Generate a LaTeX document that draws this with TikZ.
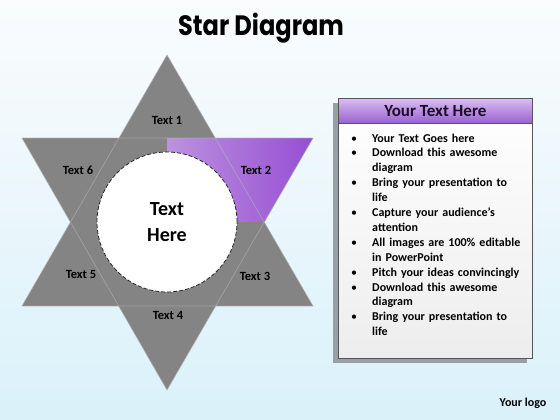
\documentclass[tikz,border=0pt]{standalone}
\usepackage{fontspec}
\setmainfont{Carlito}
\newfontfamily\titlefont{Poppins}
\usetikzlibrary{calc,
	positioning}

\makeatletter
\def\@listi{\leftmargin\leftmargini \labelsep 15pt \topsep\z@ \partopsep\z@ \parsep\z@ \itemsep\z@}
\let\@listI\@listi
\makeatother
\setlength{\leftmargini}{32pt}

\definecolor{bgtop}{RGB}{250,252,253}
\definecolor{bgbottom}{RGB}{218,241,250}
\definecolor{stargray}{RGB}{132,132,132}
\definecolor{starline}{RGB}{175,175,175}
\definecolor{lilac}{RGB}{188,146,222}
\definecolor{violet}{RGB}{150,78,212}
\definecolor{headtop}{RGB}{218,190,242}
\definecolor{headbottom}{RGB}{152,96,206}
\definecolor{headtext}{RGB}{28,12,42}
\definecolor{panelline}{RGB}{85,85,85}
\definecolor{panelshadow}{RGB}{150,160,166}

\begin{document}
\begin{tikzpicture}[x=1pt,y=-1pt,
	spike/.style={fill=stargray},
	rim/.style={draw=starline,line width=0.7pt,line join=round,opacity=0.7},
	spikelabel/.style={font=\bfseries\fontsize{12.5}{14}\selectfont,text=black},
	bodytext/.style={font=\bfseries\fontsize{12}{14.9}\selectfont,text=black}]
	% background
	\fill[top color=bgtop,bottom color=bgbottom] (0,0) rectangle (560,420);
	\useasboundingbox (0,0) rectangle (560,420);

	\node (title) [anchor=base,text=black,font=\titlefont\bfseries\fontsize{28}{30}\selectfont] at (261,36) {\scalebox{0.86}[1]{Star Diagram}};

	% star points
	\coordinate (c) at (167,222);
	\coordinate (p1) at (167,55);
	\coordinate (p2) at (313,138);
	\coordinate (p3) at (313,306);
	\coordinate (p4) at (167,390);
	\coordinate (p5) at (22,306);
	\coordinate (p6) at (22,138);
	\coordinate (i2) at (215,138);
	\coordinate (i3) at (264,222);

	\fill[spike] (p1) -- (p3) -- (p5) -- cycle;
	\fill[spike] (p2) -- (p4) -- (p6) -- cycle;
	\shade[left color=lilac,right color=violet] (c) -- (167,138) -- (i2) -- (p2) -- (i3) -- cycle;
	% light rims of both triangles
	\draw[rim] (p1) -- (p3) -- (p5) -- cycle;
	\draw[rim] (p2) -- (p4) -- (p6) -- cycle;

	\node (hub) [circle,fill=white,draw=black!85,dash pattern=on 4pt off 2pt,line width=0.8pt,minimum size=140pt,align=center,font=\bfseries\fontsize{20}{26}\selectfont] at (c) {Text\\Here};

	\node (t1) [spikelabel] at (167,120) {Text 1};
	\node (t2) [spikelabel] at (256,170) {Text 2};
	\node (t3) [spikelabel] at (255,276) {Text 3};
	\node (t4) [spikelabel] at (168,315) {Text 4};
	\node (t5) [spikelabel] at (81,274) {Text 5};
	\node (t6) [spikelabel] at (78,170) {Text 6};

	% text panel
	\fill[panelshadow] (333,103) rectangle (527,363);
	\node (panel) [anchor=north west,draw=panelline,line width=0.8pt,top color=white,bottom color=black!7,minimum width=194pt,minimum height=260pt,inner sep=0pt] at (338,98) {};
	\node (head) [anchor=north west,draw=panelline,line width=0.8pt,top color=headtop,bottom color=headbottom,minimum width=194pt,minimum height=25pt,inner sep=0pt,text=headtext,font=\bfseries\fontsize{17}{20}\selectfont] at (panel.north west) {Your Text Here};
	\node (points) [anchor=north west,inner sep=0pt,text width=188pt,bodytext] at (340,127) {%
		\begin{itemize}
			\item Your Text Goes here
			\item Download this awesome\\diagram
			\item Bring your presentation to\\life
			\item Capture your audience’s\\attention
			\item All images are 100\% editable\\in PowerPoint
			\item Pitch your ideas convincingly
			\item Download this awesome\\diagram
			\item Bring your presentation to\\life
		\end{itemize}};

	\node (logo) [anchor=base,bodytext] at (523,406) {Your logo};
\end{tikzpicture}
\end{document}
